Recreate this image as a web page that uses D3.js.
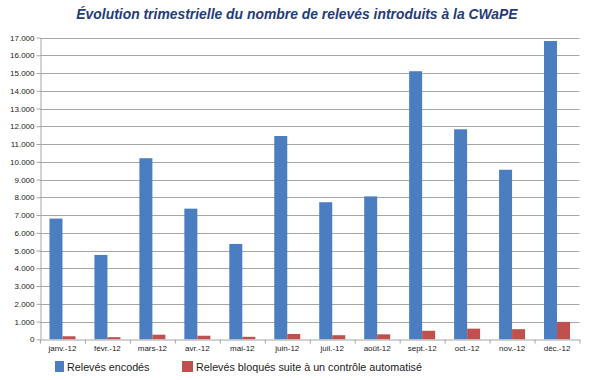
<!DOCTYPE html>
<html>
<head>
<meta charset="utf-8">
<script src="https://cdn.jsdelivr.net/npm/d3@7"></script>
<style>
  body { margin: 0; background: #fff; }
  svg { font-family: "Liberation Sans", Arial, sans-serif; }
</style>
</head>
<body>
<svg id="chart" width="589" height="380"></svg>
<script>
const months = ['janv.-12', 'févr.-12', 'mars-12', 'avr.-12', 'mai-12', 'juin-12',
  'juil.-12', 'août-12', 'sept.-12', 'oct.-12', 'nov.-12', 'déc.-12'];
const encoded = [6800, 4750, 10200, 7360, 5370, 11450, 7720, 8050, 15100, 11830, 9550, 16800];
const blocked = [170, 120, 260, 200, 140, 300, 230, 280, 480, 600, 570, 980];
const seriesNames = ['Relevés encodés', 'Relevés bloqués suite à un contrôle automatisé'];
const seriesColors = ['#4A7EC1', '#C0504D'];
const yTicks = d3.range(0, 17001, 1000);

const svg = d3.select('#chart');
const mLeft = 40, mRight = 579.5, mTop = 37.5, mBottom = 339.3;

const x = d3.scaleBand().domain(months).range([mLeft, mRight]);
const y = d3.scaleLinear().domain([0, 17000]).range([mBottom, mTop]);
const fmt = v => d3.format(',')(v).replace(/,/g, '.');

// title
svg.append('text')
  .attr('x', 297).attr('y', 19)
  .attr('text-anchor', 'middle')
  .attr('font-size', 13.9).attr('font-weight', 'bold').attr('font-style', 'italic')
  .attr('fill', '#253C78')
  .text('Évolution trimestrielle du nombre de relevés introduits à la CWaPE');

// gridlines
svg.append('g')
  .selectAll('line')
  .data(yTicks.filter(d => d > 0))
  .enter().append('line')
  .attr('x1', mLeft).attr('x2', mRight)
  .attr('y1', d => Math.round(y(d)) + 0.5).attr('y2', d => Math.round(y(d)) + 0.5)
  .attr('stroke', '#A6A6A6');

// y axis
const yAxis = svg.append('g')
  .attr('transform', 'translate(' + (mLeft + 0.5) + ',0)')
  .call(d3.axisLeft(y).tickValues(yTicks).tickFormat(fmt).tickSize(4).tickSizeOuter(0));
yAxis.select('.domain').attr('stroke', '#A6A6A6');
yAxis.selectAll('.tick line').attr('stroke', '#A6A6A6');
yAxis.selectAll('.tick text').attr('font-size', 8).attr('fill', '#222').attr('x', -6);

// bars
const sub = d3.scaleBand().domain([0, 1]).range([0, 26]);
const groups = svg.append('g')
  .selectAll('g')
  .data(months)
  .enter().append('g')
  .attr('transform', d => 'translate(' + (x(d) + x.bandwidth() / 2 - 13) + ',0)');

groups.append('rect')
  .attr('x', sub(0)).attr('width', sub.bandwidth())
  .attr('y', (d, i) => y(encoded[i]))
  .attr('height', (d, i) => mBottom - y(encoded[i]))
  .attr('fill', seriesColors[0]);

groups.append('rect')
  .attr('x', sub(1)).attr('width', sub.bandwidth())
  .attr('y', (d, i) => y(blocked[i]))
  .attr('height', (d, i) => mBottom - y(blocked[i]))
  .attr('fill', seriesColors[1]);

// x axis
const xAxis = svg.append('g')
  .attr('transform', 'translate(0,' + (Math.round(mBottom) + 0.5) + ')')
  .call(d3.axisBottom(x).tickSize(0).tickSizeOuter(0));
xAxis.select('.domain').attr('stroke', '#A6A6A6');
xAxis.selectAll('.tick text').attr('font-size', 8).attr('fill', '#222').attr('dy', '1.0em');
xAxis.selectAll('.sep')
  .data(months.concat(['end']))
  .enter().append('line')
  .attr('x1', (d, i) => mLeft + i * x.step() + 0.5)
  .attr('x2', (d, i) => mLeft + i * x.step() + 0.5)
  .attr('y1', 0).attr('y2', 4)
  .attr('stroke', '#A6A6A6');

// legend
const legendX = [55, 182];
const legendW = [9, 11];
const legend = svg.append('g')
  .selectAll('g')
  .data(seriesNames)
  .enter().append('g')
  .attr('transform', (d, i) => 'translate(' + legendX[i] + ',361)');
legend.append('rect')
  .attr('width', (d, i) => legendW[i]).attr('height', 11)
  .attr('fill', (d, i) => seriesColors[i]);
legend.append('text')
  .attr('x', (d, i) => legendW[i] + 3).attr('y', 10)
  .attr('font-size', 10.75).attr('fill', '#222')
  .text(d => d);
</script>
</body>
</html>
